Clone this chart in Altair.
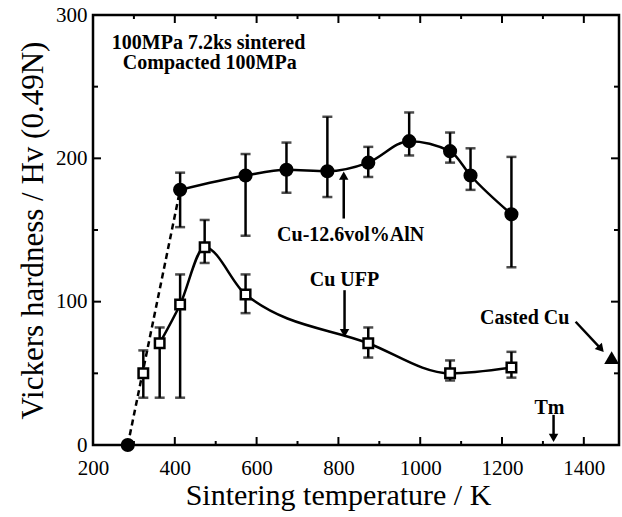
import altair as alt
import pandas as pd

# ---- data ----
# Cu-12.6vol%AlN (filled circles)
aln_T = [413, 573, 673, 773, 873, 973, 1073, 1123, 1223]
aln_hv = [178, 188, 192, 191, 197, 212, 205, 188, 161]
aln_hi = [190, 203, 211, 229, 208, 232, 218, 207, 201]
aln_lo = [152, 146, 176, 173, 187, 202, 197, 178, 124]
# compacted (room temperature) point
rt_T = [285]
rt_hv = [0]
# Cu UFP (open squares)
ufp_T = [323, 363, 413, 473, 573, 873, 1073, 1223]
ufp_hv = [50, 71, 98, 138, 105, 71, 50, 54]
ufp_hi = [66, 82, 119, 157, 119, 82, 59, 65]
ufp_lo = [33, 33, 33, 127, 92, 61, 45, 47]
# casted Cu (filled triangle)
cast_T = [1468]
cast_hv = [61]

x_major = [200, 400, 600, 800, 1000, 1200, 1400]
x_minor = [300, 500, 700, 900, 1100, 1300]
y_major = [0, 100, 200, 300]
y_minor = [50, 150, 250]

X_DOM = [200, 1486]
Y_DOM = [0, 300]
W, H = 526, 430
FONT = "Liberation Serif"
XT = "Sintering temperature / K"
YT = "Vickers hardness / Hv (0.49N)"

xs = alt.Scale(domain=X_DOM, nice=False, zero=False)
ys = alt.Scale(domain=Y_DOM, nice=False, zero=False)

AX = alt.Axis(values=x_major, format="d", tickSize=0, domain=False, grid=False,
              labelFont=FONT, labelFontSize=21, labelColor="black",
              labelPadding=12, titleFont=FONT, titleFontSize=30,
              titleFontWeight="normal", titleColor="black", titlePadding=2,
              titleX=245, labelFlush=False)
AY = alt.Axis(values=y_major, format="d", tickSize=0, domain=False, grid=False,
              labelFont=FONT, labelFontSize=21, labelColor="black",
              labelPadding=6, titleFont=FONT, titleFontSize=31,
              titleFontWeight="normal", titleColor="black", titlePadding=6,
              labelFlush=False)

def X(f="T"):
    return alt.X(f"{f}:Q", scale=xs, axis=AX, title=XT)

def Y(f="hv"):
    return alt.Y(f"{f}:Q", scale=ys, axis=AY, title=YT)

aln = pd.DataFrame({"T": aln_T, "hv": aln_hv, "hi": aln_hi, "lo": aln_lo})
ufp = pd.DataFrame({"T": ufp_T, "hv": ufp_hv, "hi": ufp_hi, "lo": ufp_lo})
dash = pd.DataFrame({"T": rt_T + aln_T[:1], "hv": rt_hv + aln_hv[:1]})
rt = pd.DataFrame({"T": rt_T, "hv": rt_hv})
cast = pd.DataFrame({"T": cast_T, "hv": cast_hv})

def xticks(vals, length, top):
    df = pd.DataFrame({"T": vals})
    y0, y1 = (0, length) if top else (H, H - length)
    return alt.Chart(df).mark_rule(color="black", strokeWidth=2).encode(
        x=X(), y=alt.value(y0), y2=alt.value(y1))

def yticks(vals, length, right):
    df = pd.DataFrame({"hv": vals})
    x0, x1 = (W, W - length) if right else (0, length)
    return alt.Chart(df).mark_rule(color="black", strokeWidth=2).encode(
        y=Y(), x=alt.value(x0), x2=alt.value(x1))

ticks = [xticks(x_major, 8, False), xticks(x_minor, 4, False),
         xticks(x_major, 8, True), xticks(x_minor, 4, True),
         yticks(y_major, 8, False), yticks(y_minor, 5, False),
         yticks(y_major, 8, True), yticks(y_minor, 5, True)]

def errbars(df):
    base = alt.Chart(df)
    bar = base.mark_rule(color="black", strokeWidth=2.5).encode(
        x=X(), y=Y("lo"), y2="hi:Q")
    cap_hi = base.mark_tick(color="black", thickness=2.5, size=10, orient="horizontal").encode(
        x=X(), y=Y("hi"))
    cap_lo = base.mark_tick(color="black", thickness=2.5, size=10, orient="horizontal").encode(
        x=X(), y=Y("lo"))
    return [bar, cap_hi, cap_lo]

aln_line = alt.Chart(aln).mark_line(color="black", strokeWidth=2.5, interpolate="monotone").encode(
    x=X(), y=Y())
ufp_line = alt.Chart(ufp[ufp["T"] >= 363]).mark_line(color="black", strokeWidth=2.5,
                                                      interpolate="monotone").encode(x=X(), y=Y())
dash_line = alt.Chart(dash).mark_line(color="black", strokeWidth=2.5, strokeDash=[6, 4]).encode(
    x=X(), y=Y())

aln_pts = alt.Chart(aln).mark_point(shape="circle", filled=True, color="black", size=200, opacity=1).encode(
    x=X(), y=Y())
rt_pts = alt.Chart(rt).mark_point(shape="circle", filled=True, color="black", size=200, opacity=1).encode(
    x=X(), y=Y())
ufp_pts = alt.Chart(ufp).mark_point(shape="square", filled=True, fill="white", stroke="black",
                                    strokeWidth=2.5, size=90, opacity=1).encode(x=X(), y=Y())
cast_pts = alt.Chart(cast).mark_point(shape="triangle-up", filled=True, color="black", size=220,
                                      opacity=1).encode(x=X(), y=Y())

# annotations (data coordinates)
notes_T = [246, 273]
notes_hv = [280.5, 266.5]
notes_txt = ["100MPa 7.2ks sintered", "Compacted 100MPa"]
notes = pd.DataFrame({"T": notes_T, "hv": notes_hv, "t": notes_txt})
note_text = alt.Chart(notes).mark_text(font=FONT, fontSize=20, fontWeight="bold", align="left",
                                       baseline="middle", color="black").encode(
    x=X(), y=Y(), text="t:N")

lab_T = [650, 730, 1146]
lab_hv = [146.5, 115, 88.6]
lab_txt = ["Cu-12.6vol%AlN", "Cu UFP", "Casted  Cu"]
labs = pd.DataFrame({"T": lab_T, "hv": lab_hv, "t": lab_txt})
lab_text = alt.Chart(labs).mark_text(font=FONT, fontSize=20, fontWeight="bold", align="left",
                                     baseline="middle", color="black").encode(
    x=X(), y=Y(), text="t:N")

tm = pd.DataFrame({"T": [1316], "hv": [26], "t": ["Tm"]})
tm_text = alt.Chart(tm).mark_text(font=FONT, fontSize=20, fontWeight="bold", align="center",
                                  baseline="middle", color="black").encode(
    x=X(), y=Y(), text="t:N")

arr_T1 = [813, 815, 1380, 1326]
arr_hv1 = [158, 108, 86, 21]
arr_T2 = [813, 815, 1442, 1326]
arr_hv2 = [188, 78, 67, 5]
arr_ang = [0, 180, 139, 180]
arrows = pd.DataFrame({"T": arr_T1, "hv": arr_hv1, "T2": arr_T2, "hv2": arr_hv2, "a": arr_ang})
arr_lines = alt.Chart(arrows).mark_rule(color="black", strokeWidth=2.5).encode(
    x=X(), y=Y(), x2="T2:Q", y2="hv2:Q")
arr_heads = alt.Chart(arrows).mark_point(shape="triangle-up", filled=True, color="black", size=90,
                                         opacity=1).encode(
    x=X("T2"), y=Y("hv2"), angle=alt.Angle("a:Q", scale=None))

layers = ticks + [dash_line, aln_line, ufp_line] + errbars(aln) + errbars(ufp) + \
    [aln_pts, rt_pts, ufp_pts, cast_pts, note_text, lab_text, tm_text, arr_lines, arr_heads]

chart = alt.layer(*layers).properties(
    width=W, height=H,
    autosize=alt.AutoSizeParams(type="none"),
    padding={"left": 93, "top": 15, "right": 3, "bottom": 72},
    background="white",
).configure_view(stroke="black", strokeWidth=2.5)

chart.save("out.html", embed_options={"renderer": "svg", "actions": False})
